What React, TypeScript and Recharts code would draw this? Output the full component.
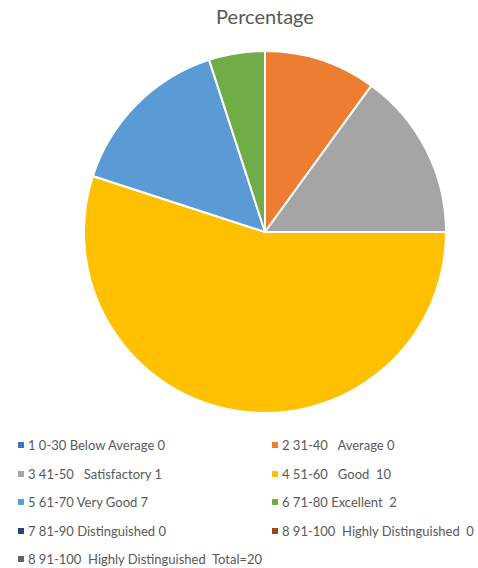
import { PieChart, Pie, Cell, Legend } from "recharts";

const categories = [
  "1 0-30 Below Average 0",
  "2 31-40   Average 0",
  "3 41-50   Satisfactory 1",
  "4 51-60   Good  10",
  "5 61-70 Very Good 7",
  "6 71-80 Excellent  2",
  "7 81-90 Distinguished 0",
  "8 91-100  Highly Distinguished  0",
  "8 91-100  Highly Distinguished  Total=20",
];

const percentages = [0, 10, 15, 55, 15, 5, 0, 0, 0];

const colors = [
  "#4472C4",
  "#ED7D31",
  "#A5A5A5",
  "#FFC000",
  "#5B9BD5",
  "#70AD47",
  "#264478",
  "#9E480E",
  "#636363",
];

const data = categories.map((name, i) => ({ name, value: percentages[i] }));

const textColor = "#595959";

function LegendContent() {
  return (
    <div
      style={{
        display: "grid",
        gridTemplateColumns: "256px 222px",
        fontFamily: "Lato, sans-serif",
        fontSize: 13,
        color: textColor,
      }}
    >
      {categories.map((name, i) => (
        <div
          key={i}
          style={{
            display: "flex",
            alignItems: "center",
            height: 28.5,
            paddingLeft: i % 2 === 0 ? 18 : 16,
            whiteSpace: "pre",
          }}
        >
          <span
            style={{
              display: "inline-block",
              flexShrink: 0,
              width: 6,
              height: 6,
              background: colors[i],
              marginRight: 4,
            }}
          />
          {name}
        </div>
      ))}
    </div>
  );
}

export default function App() {
  return (
    <div style={{ position: "absolute", left: 0, top: 0, width: 478, height: 568, background: "#fff" }}>
      <div
        style={{
          position: "absolute",
          top: 4,
          left: 0,
          width: 530,
          textAlign: "center",
          fontFamily: "Lato, sans-serif",
          fontSize: 20,
          color: textColor,
        }}
      >
        Percentage
      </div>
      <PieChart width={478} height={568} margin={{ top: 0, right: 0, bottom: 0, left: 0 }}>
        <Pie
          data={data}
          dataKey="value"
          nameKey="name"
          cx={265}
          cy={232}
          outerRadius={181}
          startAngle={90}
          endAngle={-270}
          stroke="#ffffff"
          strokeWidth={2}
          isAnimationActive={false}
        >
          {data.map((d, i) => (
            <Cell key={i} fill={colors[i]} />
          ))}
        </Pie>
        <Legend
          content={<LegendContent />}
          wrapperStyle={{ position: "absolute", left: 0, top: 431, width: 478 }}
        />
      </PieChart>
    </div>
  );
}
